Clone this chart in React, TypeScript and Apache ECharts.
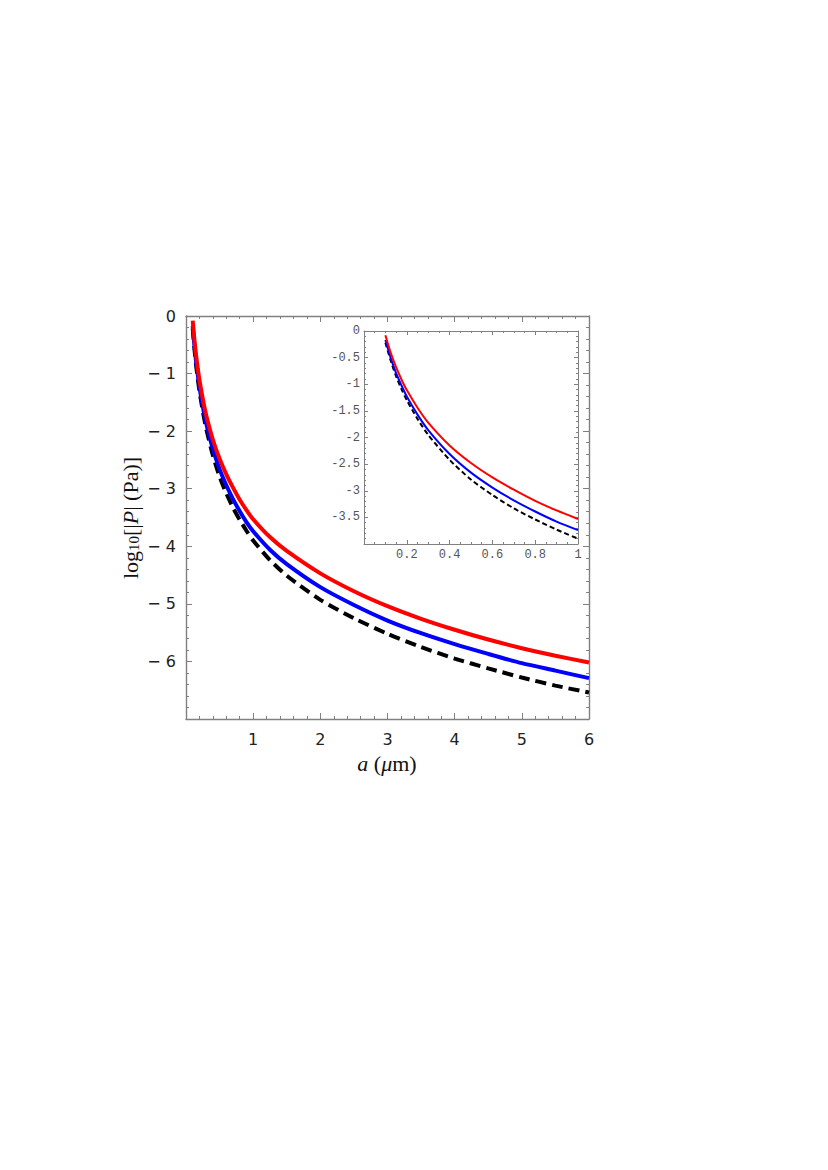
import React, { useEffect, useRef } from "react";
import * as echarts from "echarts";

// plate separation a (μm)
const A_UM = [0.1, 0.125, 0.15, 0.175, 0.2, 0.25, 0.3, 0.4, 0.5, 0.6, 0.7, 0.8, 0.9, 1.0, 1.25, 1.5, 2, 2.5, 3, 3.5, 4, 4.5, 5, 5.5, 6];
// log10 |P| (Pa)
const RED = [-0.08, -0.41, -0.68, -0.91, -1.11, -1.44, -1.72, -2.15, -2.48, -2.75, -2.98, -3.19, -3.37, -3.53, -3.84, -4.08, -4.47, -4.78, -5.04, -5.26, -5.45, -5.62, -5.77, -5.9, -6.02];
const BLUE = [-0.17, -0.51, -0.79, -1.02, -1.23, -1.57, -1.86, -2.31, -2.66, -2.94, -3.18, -3.39, -3.58, -3.74, -4.06, -4.31, -4.71, -5.02, -5.29, -5.51, -5.7, -5.87, -6.03, -6.16, -6.29];
const BLACK = [-0.22, -0.56, -0.85, -1.09, -1.3, -1.65, -1.95, -2.42, -2.79, -3.08, -3.33, -3.54, -3.73, -3.9, -4.24, -4.51, -4.93, -5.25, -5.52, -5.75, -5.95, -6.12, -6.28, -6.42, -6.54];

const INSET_MAX_A = 1;

const pairs = (ys: number[], maxX = Infinity) =>
  A_UM.map((x, i) => [x, ys[i]]).filter((p) => p[0] <= maxX + 1e-9);

const FRAME = "#808080";

export default function App() {
  const ref = useRef<HTMLDivElement>(null);
  useEffect(() => {
    document.body.style.margin = "0";
    const chart = echarts.init(ref.current!, null, { renderer: "svg" });
    const mainTickLabel = {
      fontFamily: "DejaVu Sans",
      fontSize: 16,
      color: "#222",
    };
    const insetTickLabel = {
      fontFamily: "Liberation Mono",
      fontSize: 12,
      color: "#555",
    };
    const line = (w: number) => ({ show: true, onZero: false, lineStyle: { color: FRAME, width: w } });
    const mainX = (pos: "bottom" | "top", labels: boolean) => ({
      type: "value",
      gridIndex: 0,
      position: pos,
      min: 0,
      max: 6,
      interval: 1,
      axisLine: line(1.4),
      axisTick: { show: true, inside: true, length: 6, lineStyle: { color: FRAME, width: 1 } },
      minorTick: { show: true, splitNumber: 5, length: 3, lineStyle: { color: FRAME, width: 1 } },
      splitLine: { show: false },
      axisLabel: {
        show: labels,
        margin: 12,
        ...mainTickLabel,
        formatter: (v: number) => (v === 0 ? "" : String(v)),
      },
    });
    const mainY = (pos: "left" | "right", labels: boolean) => ({
      type: "value",
      gridIndex: 0,
      position: pos,
      min: -7,
      max: 0,
      interval: 1,
      axisLine: line(1.4),
      axisTick: { show: true, inside: true, length: 6, lineStyle: { color: FRAME, width: 1 } },
      minorTick: { show: true, splitNumber: 5, length: 3, lineStyle: { color: FRAME, width: 1 } },
      splitLine: { show: false },
      axisLabel: {
        show: labels,
        margin: 10,
        ...mainTickLabel,
        formatter: (v: number) => (v === 0 ? "0" : v <= -7 ? "" : "\u2212 " + Math.abs(v)),
      },
    });
    const insetX = (pos: "bottom" | "top", labels: boolean) => ({
      type: "value",
      gridIndex: 1,
      position: pos,
      min: 0,
      max: 1,
      interval: 0.2,
      axisLine: line(1),
      axisTick: { show: true, inside: true, length: 4, lineStyle: { color: FRAME, width: 1 } },
      minorTick: { show: true, splitNumber: 4, length: 2, lineStyle: { color: FRAME, width: 1 } },
      splitLine: { show: false },
      axisLabel: {
        show: labels,
        margin: 5,
        ...insetTickLabel,
        formatter: (v: number) => (v === 0 ? "" : String(+v.toFixed(1))),
      },
    });
    const insetY = (pos: "left" | "right", labels: boolean) => ({
      type: "value",
      gridIndex: 1,
      position: pos,
      min: -4,
      max: 0,
      interval: 0.5,
      axisLine: line(1),
      axisTick: { show: true, inside: true, length: 4, lineStyle: { color: FRAME, width: 1 } },
      minorTick: { show: true, splitNumber: 5, length: 2, lineStyle: { color: FRAME, width: 1 } },
      splitLine: { show: false },
      axisLabel: {
        show: labels,
        margin: 4,
        ...insetTickLabel,
        formatter: (v: number) => (v === 0 ? "0" : v <= -4 ? "" : "-" + String(+Math.abs(v).toFixed(1))),
      },
    });

    const s = (
      data: number[],
      color: string,
      w: number,
      xi: number,
      yi: number,
      maxX: number,
      dashed?: number[]
    ) => ({
      type: "line",
      xAxisIndex: xi,
      yAxisIndex: yi,
      data: pairs(data, maxX),
      showSymbol: false,
      smooth: 0.25,
      lineStyle: { color, width: w, type: dashed ? dashed : "solid", cap: "butt" },
      z: 3,
    });

    chart.setOption({
      animation: false,
      backgroundColor: "#ffffff",
      grid: [
        { left: 186, top: 316, width: 403, height: 403, containLabel: false },
        { left: 364, top: 331, width: 214, height: 213, containLabel: false },
      ],
      xAxis: [mainX("bottom", true), mainX("top", false), insetX("bottom", true), insetX("top", false)],
      yAxis: [mainY("left", true), mainY("right", false), insetY("left", true), insetY("right", false)],
      series: [
        s(BLACK, "#000000", 4, 0, 0, Infinity, [11, 6]),
        s(BLUE, "#0000ff", 4, 0, 0, Infinity),
        s(RED, "#ff0000", 4, 0, 0, Infinity),
        s(BLACK, "#000000", 2, 2, 2, INSET_MAX_A, [5, 3]),
        s(BLUE, "#0000ff", 2, 2, 2, INSET_MAX_A),
        s(RED, "#ff0000", 2, 2, 2, INSET_MAX_A),
      ],
      graphic: [
        {
          type: "text",
          x: 387,
          y: 763,
          style: {
            text: "{i|a}{n| (}{i|\u03bc}{n|m)}",
            textAlign: "center",
            textVerticalAlign: "middle",
            rich: {
              i: { fontFamily: "Liberation Serif", fontStyle: "italic", fontSize: 22, fill: "#111" },
              n: { fontFamily: "Liberation Serif", fontSize: 22, fill: "#111" },
            },
          },
        },
        {
          type: "text",
          x: 128,
          y: 518,
          rotation: Math.PI / 2,
          style: {
            text: "{n|log}{s|10}{n|[|}{i|P}{n|| (Pa)]}",
            textAlign: "center",
            textVerticalAlign: "middle",
            rich: {
              n: { fontFamily: "Liberation Serif", fontSize: 22, fill: "#111", lineHeight: 26, verticalAlign: "bottom" },
              i: { fontFamily: "Liberation Serif", fontStyle: "italic", fontSize: 22, fill: "#111", lineHeight: 26, verticalAlign: "bottom" },
              s: { fontFamily: "Liberation Serif", fontSize: 15, fill: "#111", lineHeight: 26, verticalAlign: "bottom", padding: [8, 0, 0, 0] },
            },
          },
        },
      ],
    });
    return () => chart.dispose();
  }, []);
  return <div ref={ref} style={{ width: 828, height: 1170 }} />;
}
